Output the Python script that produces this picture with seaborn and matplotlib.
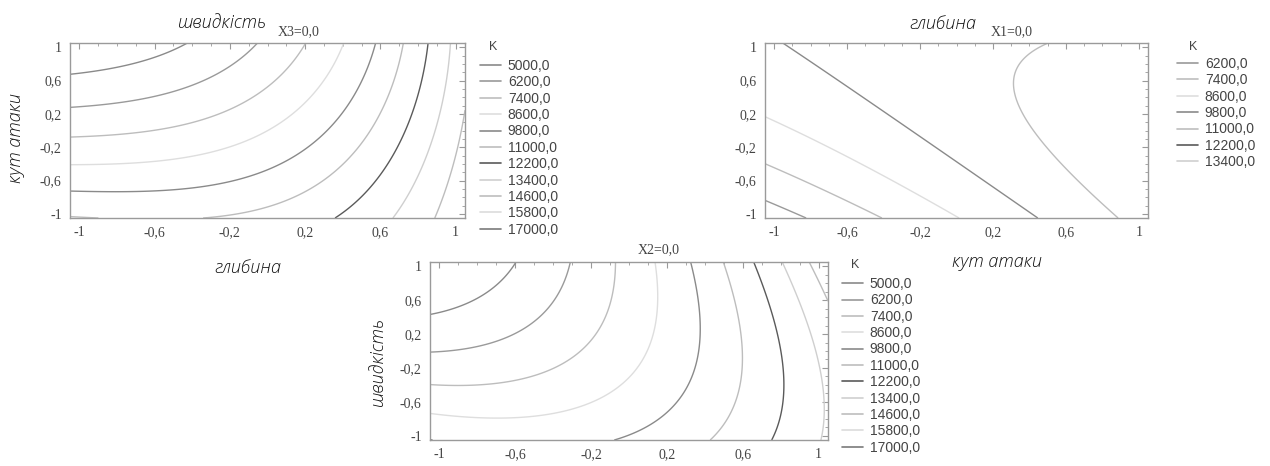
import numpy as np
import matplotlib.pyplot as plt
import seaborn as sns
from matplotlib.lines import Line2D
from matplotlib.ticker import MultipleLocator, FixedLocator, FuncFormatter

sns.set_style('white')
plt.rcParams['font.family'] = ['Liberation Serif', 'DejaVu Serif']

# рівні K і відтінки ліній (як у легенді)
levels = [5000, 6200, 7400, 8600, 9800, 11000, 12200, 13400, 14600, 15800, 17000]
level_colors = ['#8a8a8a', '#9a9a9a', '#bdbdbd', '#dedede', '#8a8a8a', '#bdbdbd',
                '#5a5a5a', '#cfcfcf', '#bdbdbd', '#dcdcdc', '#7a7a7a']
levels_x1 = [6200, 7400, 8600, 9800, 11000, 12200, 13400]

# K = b0 + b1*x + b2*y + b3*x*y + b4*x^2 + b5*y^2 + b6*x^3 + b7*x^2*y + b8*x*y^2 + b9*y^3
coef_x3 = [8595, 3073, -2449, 1274, 2138, 269, 518, 306, -108, 88]   # X3=0: глибина / кут атаки
coef_x1 = [10251, 1803, 979, -959, -64, -601, 0, 0, 0, 0]           # X1=0: кут атаки / швидкість
coef_x2 = [8233, 3673, -992, 1828, 1606, 571, -13, -4, 50, -23]     # X2=0: глибина / швидкість

ticks = [-1, -0.6, -0.2, 0.2, 0.6, 1]

W, H = 1270, 466
fig = plt.figure(figsize=(W / 100, H / 100), dpi=100)


def px(x0, y0, x1, y1):
    return [x0 / W, 1 - y1 / H, (x1 - x0) / W, (y1 - y0) / H]


def surface(coef, x, y):
    terms = [np.ones_like(x), x, y, x * y, x ** 2, y ** 2,
             x ** 3, x ** 2 * y, x * y ** 2, y ** 3]
    return sum(c * t for c, t in zip(coef, terms))


def draw_panel(rect, coef, lv, title, title_x, leg_x, leg_y, k_pos):
    ax = fig.add_axes(rect)
    g = np.linspace(-1.05, 1.05, 211)
    xx, yy = np.meshgrid(g, g)
    zz = surface(coef, xx, yy)
    cols = [level_colors[levels.index(v)] for v in lv]
    ax.contour(xx, yy, zz, levels=lv, colors=cols, linewidths=1.0)
    ax.set_xlim(-1.05, 1.05)
    ax.set_ylim(-1.05, 1.05)
    fmt = FuncFormatter(lambda v, p: ('%g' % v).replace('.', ','))
    for axis in (ax.xaxis, ax.yaxis):
        axis.set_major_locator(FixedLocator(ticks))
        axis.set_minor_locator(MultipleLocator(0.1))
        axis.set_major_formatter(fmt)
    ax.tick_params(which='both', direction='in', top=True, right=True,
                   color='#9a9a9a', labelcolor='#444444', labelsize=10)
    ax.tick_params(which='major', length=4, pad=6)
    ax.tick_params(which='minor', length=2)
    for s in ax.spines.values():
        s.set_color('#9a9a9a')
        s.set_linewidth(1.0)
    ax.text(title_x, 1.03, title, transform=ax.transAxes, ha='center', va='bottom',
            fontsize=10, color='#444444')
    handles = [Line2D([], [], color=c, lw=1.2) for c in cols]
    labels = ['%d,0' % v for v in lv]
    fig.legend(handles, labels, loc='upper left', bbox_to_anchor=(leg_x / W, 1 - leg_y / H),
               frameon=False, handlelength=1.5, handletextpad=0.5, labelspacing=0.17,
               borderpad=0, borderaxespad=0,
               prop={'family': ['Liberation Sans', 'DejaVu Sans'], 'size': 10},
               labelcolor='#444444')
    fig.text(k_pos[0] / W, 1 - k_pos[1] / H, 'K', ha='center', va='center',
             fontsize=9, color='#444444', family=['Liberation Sans', 'DejaVu Sans'])


draw_panel(px(70, 43, 465, 218), coef_x3, levels, 'X3=0,0', 0.58, 480, 59, (493, 47))
draw_panel(px(765, 43, 1148, 218), coef_x1, levels_x1, 'X1=0,0', 0.645, 1177, 57, (1193, 47))
draw_panel(px(430, 262, 828, 440), coef_x2, levels, 'X2=0,0', 0.575, 842, 277, (855, 265))

lab = dict(ha='center', va='center', fontsize=13, style='italic', weight='light',
           color='#111111', family=['Open Sans', 'DejaVu Sans'])
fig.text(222 / W, 1 - 23 / H, 'швидкість', **lab)
fig.text(16 / W, 1 - 138 / H, 'кут атаки', rotation=90, **lab)
fig.text(248 / W, 1 - 268 / H, 'глибина', **lab)
fig.text(943 / W, 1 - 24 / H, 'глибина', **lab)
fig.text(997 / W, 1 - 262 / H, 'кут атаки', **lab)
fig.text(378 / W, 1 - 362 / H, 'швидкість', rotation=90, **lab)

fig.savefig('out.png', dpi=100)
